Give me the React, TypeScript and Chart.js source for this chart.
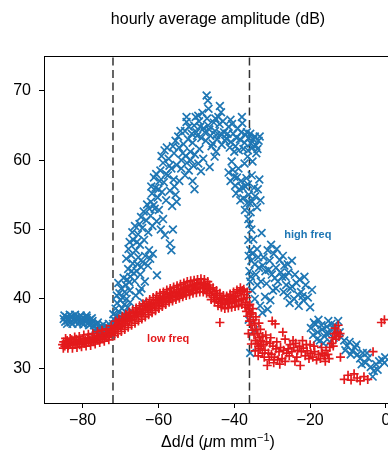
import React, { useEffect, useRef } from "react";
import { Chart, registerables } from "chart.js";

Chart.register(...registerables);

const titleText = "hourly average amplitude (dB)";
const xTicks = [-80, -60, -40, -20, 0];
const yTicks = [30, 40, 50, 60, 70];
const dashedX = [-72, -36];

// high freq (blue x markers): [Δd/d, dB]
const highFreq: [number, number][] = [
  [-85, 37.1], [-84.6, 36.7], [-84.3, 37.4], [-84, 36.9], [-83.6, 37.2], [-83.2, 36.6], [-82.9, 37.5], [-82.5, 37.0],
  [-82.1, 36.8], [-81.8, 37.3], [-81.4, 36.9], [-81, 37.4], [-80.7, 36.7], [-80.3, 37.1], [-80, 36.6], [-79.6, 37.2],
  [-79.2, 36.8], [-78.9, 37.3], [-78.5, 36.5], [-78.1, 37.0], [-77.8, 36.4], [-77.4, 36.8],
  [-84.8, 37.6], [-84.1, 36.4], [-83.4, 37.7], [-82.7, 36.4], [-82, 37.7], [-81.2, 36.4], [-80.5, 37.6], [-79.8, 36.3],
  [-79, 37.6], [-78.3, 36.2], [-77.6, 37.2], [-76.8, 35.3], [-76, 36.6], [-75.3, 34.9], [-74.6, 36.3], [-73.9, 34.8],
  [-73.1, 36.4], [-72.4, 34.9],
  [-77, 36.2], [-76.6, 35.7], [-76.3, 36.3], [-75.9, 35.5], [-75.5, 36.0], [-75.1, 35.3], [-74.8, 35.8], [-74.4, 35.1],
  [-74, 35.6], [-73.6, 35.2], [-73.3, 35.8], [-72.9, 35.4], [-72.5, 36.0], [-72.2, 35.6],
  [-72, 36.4], [-71.7, 37.0], [-71.4, 36.2], [-71.1, 37.5], [-70.8, 36.8], [-70.5, 38.2], [-70.2, 37.4], [-69.9, 36.9],
  [-69.6, 38.6], [-69.3, 37.8], [-69, 39.2], [-68.7, 38.1], [-68.4, 40.0], [-68.1, 38.8], [-67.8, 37.6], [-67.5, 39.5],
  [-71, 40.5], [-70, 39.8], [-67.6, 41.2],
  [-71.9, 37.8], [-71.3, 38.6], [-70.9, 39.4], [-70.3, 40.8], [-69.5, 40.2], [-68.9, 41.0], [-68.3, 42.8], [-67.7, 42.4],
  [-67.1, 44.0], [-66.5, 43.7], [-65.6, 45.0], [-64.6, 44.6], [-64.5, 41.5], [-63.6, 42.5], [-62.8, 44.8], [-62.2, 45.8],
  [-70.6, 42.3], [-69.8, 41.5], [-69.2, 43.0], [-68.6, 42.0], [-68, 44.3], [-67.4, 43.2], [-66.8, 45.1], [-66.3, 42.6],
  [-65.8, 44.0], [-65.3, 46.0], [-64.8, 43.5], [-64.2, 45.3], [-66, 40.5], [-65, 41.0], [-64, 39.5], [-60.4, 43.4],
  [-68.5, 45.8], [-67.9, 47.2], [-67.2, 46.3], [-66.6, 48.5], [-66, 47.0], [-65.4, 49.3], [-64.9, 47.8], [-64.3, 50.2],
  [-63.8, 48.5], [-63.2, 51.3], [-62.7, 49.6], [-62.1, 52.0], [-61.6, 50.5], [-61, 53.0], [-60.5, 51.2], [-59.9, 52.8],
  [-59.4, 50.0], [-58.8, 51.5], [-58.3, 49.2], [-63.5, 46.2], [-62.5, 47.0], [-61.5, 46.5],
  [-67.6, 48.2], [-66.9, 49.6], [-66.2, 50.5], [-65.7, 48.2], [-65, 50.8], [-64.6, 51.8], [-63.9, 52.6], [-63, 53.6],
  [-62.4, 53.0], [-61.9, 56.2], [-61.2, 57.5], [-60.6, 58.0], [-60, 55.8], [-59.2, 60.6], [-58.4, 61.4], [-57.8, 61.8],
  [-57.1, 59.2], [-56.2, 62.0], [-55.5, 62.8], [-54.8, 63.4], [-54.2, 64.2], [-53.6, 61.0], [-56, 57.2], [-54, 58.8],
  [-52.5, 59.6], [-51.5, 60.0], [-50.8, 59.2],
  [-62, 54.0], [-61.7, 55.2], [-61.3, 53.5], [-60.8, 56.0], [-60.2, 54.6], [-59.7, 57.0], [-59.1, 55.4], [-58.6, 56.8],
  [-58, 54.2], [-57.5, 57.8], [-57, 55.6], [-56.4, 53.4], [-55.8, 56.2], [-55.2, 54.0], [-57, 48.0], [-56.6, 47.0],
  [-56.2, 50.0],
  [-59.5, 58.5], [-58.8, 59.6], [-58, 58.0], [-57.3, 60.2], [-56.6, 58.8], [-55.9, 61.0], [-55.2, 59.3], [-54.6, 61.8],
  [-54, 60.0], [-53.4, 62.3], [-52.8, 60.6], [-52.2, 63.0], [-51.6, 61.2], [-51, 62.5], [-50.4, 60.8], [-49.8, 63.5],
  [-49.2, 61.6], [-53, 57.8], [-52, 58.5], [-51, 57.0], [-50.5, 55.8], [-54.5, 57.0], [-55.5, 55.0],
  [-53, 64.2], [-52.6, 65.5], [-52, 64.8], [-51.2, 63.8], [-50.6, 65.0], [-50, 64.0], [-49.3, 65.6], [-48.7, 63.2],
  [-48.1, 64.6], [-47.5, 62.8], [-46.9, 65.0], [-46.3, 63.5], [-45.7, 62.4], [-45.1, 64.2], [-44.5, 63.0], [-43.9, 65.2],
  [-43.3, 62.2], [-42.7, 64.0], [-42.1, 63.1], [-41.5, 64.8], [-40.9, 62.6], [-40.3, 63.8], [-39.7, 62.0], [-39.1, 64.6],
  [-38.5, 63.0], [-37.9, 65.3], [-37.3, 62.5], [-36.7, 64.0], [-36.2, 63.2], [-35.6, 62.4], [-35, 63.0], [-34.3, 62.1],
  [-33.6, 62.8],
  [-50.2, 66.2], [-49, 64.8], [-48.4, 66.8], [-47.8, 64.0], [-47.2, 66.0], [-46.6, 64.4], [-46, 62.0], [-45.4, 65.4],
  [-44.8, 63.6], [-44.2, 66.2], [-43.6, 63.8], [-43, 65.6], [-42.4, 62.8], [-41.8, 63.8], [-41.2, 61.8], [-40.6, 65.2],
  [-40, 61.2], [-39.4, 63.2], [-38.8, 61.4], [-38.2, 64.0], [-37.6, 61.6], [-37, 63.6], [-36.4, 61.4], [-35.8, 63.8],
  [-35.2, 61.8], [-34.6, 63.4], [-33.9, 61.6], [-33.3, 63.4],
  [-47.3, 69.3], [-47, 68.6], [-46.8, 67.4], [-43.8, 67.8], [-43.5, 66.9], [-52.6, 66.2], [-38, 66.2], [-49.5, 66.4],
  [-45, 66.0], [-41, 65.8],
  [-49.5, 59.5], [-48.8, 58.4], [-48.2, 60.2], [-46.5, 59.0], [-45.2, 60.5], [-44.8, 61.2],
  [-41.5, 58.2], [-41, 57.0], [-40.4, 58.6], [-39.8, 56.3], [-39.3, 57.5], [-38.7, 55.8], [-38.2, 57.0], [-37.6, 54.5],
  [-37.1, 56.2], [-36.6, 53.8], [-36.2, 55.0], [-35.7, 52.5], [-35.3, 54.0], [-34.8, 56.0], [-36.3, 51.5], [-36, 50.8],
  [-37.3, 59.5], [-36.5, 60.5], [-35.2, 59.8], [-34.2, 61.0], [-33.4, 57.2], [-34, 53.2], [-35.4, 57.8],
  [-40.7, 59.8], [-40, 57.6], [-39.5, 55.2], [-38.9, 58.8], [-38.4, 54.2], [-37.8, 56.0], [-37.2, 52.8], [-36.8, 57.4],
  [-36.4, 56.5], [-35.9, 53.8], [-35.5, 50.0], [-34.5, 54.8], [-33.8, 55.8], [-33.1, 54.2],
  [-36.3, 48.5], [-35.8, 47.0], [-35.5, 45.5], [-36, 44.0], [-35.2, 46.5], [-34.6, 45.0], [-34, 47.2], [-33.5, 44.5],
  [-32.8, 49.5], [-32.3, 46.0], [-31.8, 44.0], [-31.2, 47.0], [-30.7, 45.5], [-30.1, 43.5], [-29.6, 46.5], [-29, 44.5],
  [-28.5, 42.5], [-28, 45.6], [-27.4, 43.2], [-26.8, 44.8], [-26.3, 42.0], [-25.7, 43.8], [-25.2, 41.5], [-24.8, 45.5],
  [-27, 41.0], [-29, 41.5],
  [-36.2, 46.2], [-35.6, 43.2], [-35, 48.6], [-34.3, 43.5], [-33.7, 46.0], [-33, 42.5], [-32.5, 44.8], [-31.5, 42.2],
  [-30.9, 44.2], [-30.3, 47.8], [-29.3, 43.0], [-28.8, 47.2], [-27.8, 43.8], [-27.2, 46.2], [-26.5, 43.2], [-25.9, 45.0],
  [-24, 43.5], [-23.2, 40.6], [-22.8, 42.8], [-22, 40.4], [-21.5, 43.2],
  [-35.8, 42.5], [-35.3, 41.2], [-34.6, 40.0], [-33.9, 42.0], [-33.2, 39.0], [-32.6, 38.0], [-31.9, 40.3], [-31.2, 38.5],
  [-30.5, 39.8], [-29.8, 41.2], [-26, 40.5], [-25.4, 39.4], [-24.8, 41.8], [-24.2, 40.0], [-23.6, 42.3], [-23, 39.0],
  [-22.4, 41.0], [-21.8, 39.8], [-21.2, 42.0], [-20.6, 40.2], [-20, 38.8], [-19.5, 41.3], [-35.8, 32.2], [-36.2, 37.0],
  [-34.8, 35.5],
  [-19.8, 35.8], [-19.2, 34.8], [-18.6, 36.3], [-18, 35.2], [-17.4, 34.0], [-16.8, 35.6], [-16.2, 34.6], [-15.6, 36.0],
  [-15, 35.0], [-14.4, 36.4], [-13.8, 34.4], [-13.2, 35.6], [-12.6, 36.8], [-12.2, 35.2], [-17.8, 37.0], [-14.8, 33.8],
  [-19, 36.6], [-18.2, 34.2], [-17, 36.2], [-16.5, 33.6], [-15.8, 35.0], [-15.2, 36.8], [-14, 35.8], [-13.5, 36.2],
  [-12.9, 34.8],
  [-11, 34.0], [-10.3, 33.2], [-9.6, 33.8], [-8.9, 32.5], [-8.2, 33.0], [-7.5, 32.0], [-6.8, 31.4], [-6.1, 32.2],
  [-5.4, 30.8], [-4.7, 31.5], [-4, 30.2], [-3.2, 29.6], [-2.6, 30.6], [-1.8, 31.0], [-1, 31.2], [-0.4, 30.8], [-3.5, 28.8],
  [-10.7, 32.6], [-9.3, 32.0], [-7.8, 33.4], [-6.4, 30.6], [-5, 32.2], [-2.2, 29.8], [-0.2, 31.6],
];

// low freq (red + markers): [Δd/d, dB]
const lowFreq: [number, number][] = [
  [-85.3, 33.4], [-85, 33.8], [-84.7, 33.2], [-84.4, 33.6], [-84.1, 34.0], [-83.8, 33.3], [-83.5, 33.7], [-83.2, 33.5],
  [-82.9, 34.1], [-82.6, 33.4], [-82.3, 33.8], [-82, 33.5], [-81.7, 34.2], [-81.4, 33.6], [-81.1, 33.9], [-80.8, 33.4],
  [-80.5, 34.0], [-80.2, 33.7], [-79.9, 34.3], [-79.6, 33.6], [-79.3, 34.0], [-79, 33.8], [-78.7, 34.4], [-78.4, 33.7],
  [-78.1, 34.1], [-77.8, 33.9], [-77.5, 34.5], [-77.2, 33.9], [-76.9, 34.3], [-76.6, 34.0], [-76.3, 34.7], [-76, 34.1],
  [-75.7, 34.5], [-75.4, 34.2], [-75.1, 34.9], [-74.8, 34.3], [-74.5, 34.7], [-74.2, 34.4], [-73.9, 35.1], [-73.6, 34.5],
  [-73.3, 35.0], [-73, 34.7], [-72.7, 35.4], [-72.4, 34.9], [-72.1, 35.6],
  [-85.1, 32.9], [-84.5, 34.3], [-83.9, 32.9], [-83.3, 34.3], [-82.7, 32.9], [-82.1, 34.5], [-81.5, 33.0], [-80.9, 34.6],
  [-80.3, 33.1], [-79.7, 34.8], [-79.1, 33.2], [-78.5, 34.9], [-77.9, 33.3], [-77.3, 35.0], [-76.7, 33.5], [-76.1, 35.3],
  [-75.5, 33.7], [-74.9, 35.5], [-74.3, 33.9], [-73.7, 35.7], [-73.1, 34.1], [-72.5, 36.1],
  [-71.8, 35.3], [-71.5, 36.0], [-71.2, 35.6], [-70.9, 36.3], [-70.6, 35.8], [-70.3, 36.5], [-70, 36.0], [-69.7, 36.8],
  [-69.4, 36.2], [-69.1, 37.0], [-68.8, 36.4], [-68.5, 37.2], [-68.2, 36.7], [-67.9, 37.5], [-67.6, 36.9], [-67.3, 37.6],
  [-67, 37.1], [-66.7, 37.9], [-66.4, 37.3], [-66.1, 38.1], [-65.8, 37.5], [-65.5, 38.2], [-65.2, 37.7], [-64.9, 38.5],
  [-64.6, 37.9], [-64.3, 38.6], [-64, 38.1], [-63.7, 38.9], [-63.4, 38.3], [-63.1, 39.0], [-62.8, 38.5], [-62.5, 39.2],
  [-62.2, 38.6], [-61.9, 39.4], [-61.6, 38.8], [-61.3, 39.5], [-61, 39.0], [-60.7, 39.8], [-60.4, 39.1], [-60.1, 39.9],
  [-59.8, 39.3], [-59.5, 40.1], [-59.2, 39.5], [-58.9, 40.2], [-58.6, 39.6],
  [-71.6, 34.7], [-71.3, 36.8], [-70.7, 35.0], [-70.4, 37.1], [-69.8, 35.3], [-69.5, 37.5], [-68.9, 35.6], [-68.6, 37.8],
  [-68, 35.9], [-67.7, 38.1], [-67.1, 36.2], [-66.8, 38.4], [-66.2, 36.5], [-65.9, 38.7], [-65.3, 36.8], [-65, 39.0],
  [-64.4, 37.1], [-64.1, 39.3], [-63.5, 37.4], [-63.2, 39.6], [-62.6, 37.7], [-62.3, 39.9], [-61.7, 38.0], [-61.4, 40.2],
  [-60.8, 38.3], [-60.5, 40.5], [-59.9, 38.6], [-59.6, 40.8], [-59, 38.9], [-58.7, 41.0],
  [-58.3, 40.4], [-58, 39.8], [-57.7, 40.6], [-57.4, 40.0], [-57.1, 40.8], [-56.8, 40.2], [-56.5, 40.9], [-56.2, 40.3],
  [-55.9, 41.0], [-55.6, 40.4], [-55.3, 41.1], [-55, 40.5], [-54.7, 41.3], [-54.4, 40.7], [-54.1, 41.4], [-53.8, 40.8],
  [-53.5, 41.5], [-53.2, 40.9], [-52.9, 41.7], [-52.6, 41.0], [-52.3, 41.8], [-52, 41.1], [-51.7, 41.9], [-51.4, 41.2],
  [-51.1, 42.0], [-50.8, 41.3], [-50.5, 42.1], [-50.2, 41.4], [-49.9, 42.2], [-49.6, 41.5], [-49.3, 42.3], [-49, 41.6],
  [-48.7, 42.4], [-48.4, 41.7], [-48.1, 42.2], [-47.8, 41.5], [-47.5, 42.0], [-47.2, 41.3],
  [-58.1, 39.2], [-57.8, 41.3], [-57.2, 39.5], [-56.9, 41.5], [-56.3, 39.7], [-56, 41.7], [-55.4, 39.9], [-55.1, 41.9],
  [-54.5, 40.1], [-54.2, 42.1], [-53.6, 40.3], [-53.3, 42.3], [-52.7, 40.5], [-52.4, 42.5], [-51.8, 40.6], [-51.5, 42.6],
  [-50.9, 40.8], [-50.6, 42.7], [-50, 40.9], [-49.7, 42.8], [-49.1, 41.0], [-48.8, 42.9], [-48.2, 41.0], [-47.9, 42.8],
  [-47.3, 40.8], [-47, 42.5],
  [-46.9, 41.7], [-46.6, 40.8], [-46.3, 41.4], [-46, 40.5], [-45.7, 41.1], [-45.4, 40.2], [-45.1, 40.8], [-44.8, 39.9],
  [-44.5, 40.5], [-44.2, 39.6], [-43.9, 40.2], [-43.6, 39.4], [-43.3, 40.0], [-43, 39.3], [-42.7, 39.9], [-42.4, 39.2],
  [-42.1, 39.8], [-41.8, 39.3], [-41.5, 40.0], [-41.2, 39.4], [-40.9, 40.1], [-40.6, 39.5], [-40.3, 40.3], [-40, 39.6],
  [-39.7, 40.5], [-39.4, 39.7], [-39.1, 40.8], [-38.8, 39.8], [-38.5, 41.0], [-38.2, 39.9], [-37.9, 41.2], [-37.6, 40.0],
  [-37.3, 40.6], [-37, 39.5], [-36.7, 40.2], [-36.4, 39.0], [-43.8, 36.6],
  [-46.5, 42.0], [-46.1, 39.9], [-45.6, 41.6], [-45.2, 39.6], [-44.7, 41.2], [-44.3, 39.0], [-43.8, 40.8], [-43.4, 38.8],
  [-42.9, 40.5], [-42.5, 38.6], [-42, 40.4], [-41.6, 38.7], [-41.1, 40.7], [-40.7, 38.8], [-40.2, 41.0], [-39.8, 38.9],
  [-39.3, 41.3], [-38.9, 39.0], [-38.4, 41.6], [-38, 39.2], [-37.5, 41.4], [-37.1, 38.8], [-36.6, 41.0],
  [-36.8, 38.2], [-36.5, 37.5], [-36.2, 38.6], [-36, 36.8], [-35.8, 37.8], [-35.6, 36.2], [-35.4, 38.0], [-35.2, 35.5],
  [-35, 37.0], [-34.8, 34.8], [-34.6, 36.4], [-34.4, 34.0], [-34.2, 35.6], [-34, 33.6], [-33.8, 35.0], [-33.6, 33.2],
  [-33.4, 34.4], [-33.2, 32.8], [-33, 34.0], [-32.8, 33.4], [-32.6, 32.2], [-35.5, 33.5], [-34.5, 32.5], [-36.3, 35.0],
  [-33.5, 36.5], [-30, 36.8], [-29.2, 36.4], [-27.2, 35.2], [-26.6, 34.2],
  [-35.9, 39.2], [-35.1, 38.6], [-34.3, 37.4], [-33.7, 31.8], [-33.1, 35.6], [-32.5, 34.6], [-32.1, 31.6], [-31.7, 34.8],
  [-30.8, 31.2], [-30.4, 34.4], [-29.6, 30.8], [-28.8, 33.8], [-28, 30.6],
  [-32.3, 33.4], [-31.9, 32.6], [-31.5, 33.8], [-31.3, 30.4], [-31, 32.2], [-30.6, 33.6], [-30.2, 32.0], [-29.8, 33.2],
  [-29.4, 31.6], [-29, 32.8], [-28.6, 31.2], [-28.2, 32.4], [-27.8, 33.0], [-27.4, 31.4], [-27, 32.6], [-26.6, 31.0],
  [-26.2, 32.2],
  [-25.8, 32.8], [-25.3, 33.4], [-24.8, 32.4], [-24.3, 33.0], [-23.8, 33.6], [-23.3, 32.6], [-22.8, 33.2], [-22.6, 30.4],
  [-22.3, 32.4], [-21.8, 32.9], [-21.3, 31.8], [-20.8, 32.5], [-20.3, 31.4], [-19.8, 32.2], [-19.3, 31.6], [-18.8, 32.4],
  [-18.3, 31.2], [-17.8, 32.0], [-17.3, 31.4], [-16.8, 32.2], [-16.3, 31.8], [-15.8, 32.6], [-15.3, 32.0], [-14.8, 33.0],
  [-14.4, 33.6], [-14, 34.4], [-13.6, 35.0], [-13.2, 34.2], [-12.8, 35.2], [-12.4, 34.6], [-12.1, 35.0], [-24, 31.0],
  [-20, 33.4], [-12, 31.6],
  [-25.5, 31.8], [-24.5, 34.0], [-23.5, 31.6], [-22, 34.0], [-21, 33.4], [-19, 33.2], [-17, 33.0], [-16, 31.0],
  [-15, 31.4], [-13.9, 33.2], [-13.4, 35.8], [-12.6, 36.2],
  [-11, 28.4], [-10, 29.0], [-9.2, 28.3], [-8.4, 29.2], [-7.6, 28.6], [-6.8, 28.2], [-5.8, 28.8], [-4.8, 28.4],
  [-3.4, 32.4], [-0.4, 37.0], [-1.2, 36.6],
];

const BLUE = "#1f77b4";
const RED = "#e31a1c";
const FONT = "'Liberation Sans', Arial, Helvetica, sans-serif";

const textPlugin = {
  id: "textPlugin",
  afterDraw(chart: any) {
    const { ctx, chartArea, scales } = chart;
    const xs = scales.x;
    const ys = scales.y;
    ctx.save();
    ctx.strokeStyle = "#000";
    ctx.lineWidth = 1;
    ctx.strokeRect(chartArea.left + 0.5, chartArea.top + 0.5, chartArea.right - chartArea.left, chartArea.bottom - chartArea.top);
    const cx = (chartArea.left + chartArea.right) / 2;
    ctx.fillStyle = "#000";
    ctx.font = `16px ${FONT}`;
    ctx.textAlign = "center";
    ctx.textBaseline = "middle";
    ctx.fillText(titleText, cx, 20);
    const parts: { t: string; f: string; dy: number }[] = [
      { t: "\u0394d/d (", f: `16px ${FONT}`, dy: 0 },
      { t: "\u03bc", f: `italic 16px ${FONT}`, dy: 0 },
      { t: "m mm", f: `16px ${FONT}`, dy: 0 },
      { t: "\u22121", f: `11px ${FONT}`, dy: -6 },
      { t: ")", f: `16px ${FONT}`, dy: 0 },
    ];
    let total = 0;
    for (const p of parts) {
      ctx.font = p.f;
      total += ctx.measureText(p.t).width;
    }
    let x = cx - total / 2;
    ctx.textAlign = "left";
    ctx.textBaseline = "alphabetic";
    for (const p of parts) {
      ctx.font = p.f;
      ctx.fillText(p.t, x, 447 + p.dy);
      x += ctx.measureText(p.t).width;
    }
    ctx.font = `bold 11px ${FONT}`;
    ctx.textBaseline = "middle";
    ctx.fillStyle = BLUE;
    ctx.fillText("high freq", xs.getPixelForValue(-26.8), ys.getPixelForValue(49.2));
    ctx.fillStyle = RED;
    ctx.fillText("low freq", xs.getPixelForValue(-63), ys.getPixelForValue(34.2));
    ctx.restore();
  },
};

export default function App() {
  const ref = useRef<HTMLCanvasElement | null>(null);
  useEffect(() => {
    if (!ref.current) return;
    const dashSets = dashedX.map((v) => ({
      label: "dash" + v,
      data: [{ x: v, y: 25 }, { x: v, y: 75 }],
      showLine: true,
      borderColor: "#333",
      borderWidth: 1.5,
      borderDash: [8, 4.5],
      pointRadius: 0,
    }));
    const chart = new Chart(ref.current, {
      type: "scatter",
      data: {
        datasets: [
          {
            label: "low freq",
            data: lowFreq.map(([x, y]) => ({ x, y })),
            pointStyle: "cross",
            pointRadius: 4.5,
            pointBorderWidth: 1.7,
            borderColor: RED,
            backgroundColor: RED,
          },
          {
            label: "high freq",
            data: highFreq.map(([x, y]) => ({ x, y })),
            pointStyle: "crossRot",
            pointRadius: 5.5,
            pointBorderWidth: 1.7,
            borderColor: BLUE,
            backgroundColor: BLUE,
          },
          ...dashSets,
        ] as any,
      },
      options: {
        animation: false,
        responsive: false,
        events: [],
        layout: { padding: { top: 56, left: 0, right: 8, bottom: 0 } },
        plugins: { legend: { display: false }, tooltip: { enabled: false }, title: { display: false } },
        scales: {
          x: {
            type: "linear",
            min: -90.2,
            max: 1.6,
            afterBuildTicks: (s: any) => { s.ticks = xTicks.map((v) => ({ value: v })); },
            afterFit: (s: any) => { s.height = 50; },
            grid: { drawOnChartArea: false, drawTicks: true, tickLength: 5, color: "#000" },
            border: { display: true, color: "#000" },
            ticks: {
              color: "#000",
              font: { size: 16, family: FONT },
              padding: 3,
              maxRotation: 0,
              callback: (v: any) => String(v).replace("-", "\u2212"),
            },
          },
          y: {
            type: "linear",
            min: 25,
            max: 75,
            afterBuildTicks: (s: any) => { s.ticks = yTicks.map((v) => ({ value: v })); },
            afterFit: (s: any) => { s.width = 44; },
            grid: { drawOnChartArea: false, drawTicks: true, tickLength: 5, color: "#000" },
            border: { display: true, color: "#000" },
            ticks: {
              color: "#000",
              font: { size: 16, family: FONT },
              padding: 8,
              callback: (v: any) => String(v),
            },
          },
        },
      } as any,
      plugins: [textPlugin],
    });
    return () => chart.destroy();
  }, []);
  return (
    <div style={{ position: "fixed", left: 0, top: 0, width: 388, height: 453, overflow: "hidden", background: "#fff" }}>
      <canvas ref={ref} width={400} height={453} style={{ width: 400, height: 453, display: "block" }} />
    </div>
  );
}
